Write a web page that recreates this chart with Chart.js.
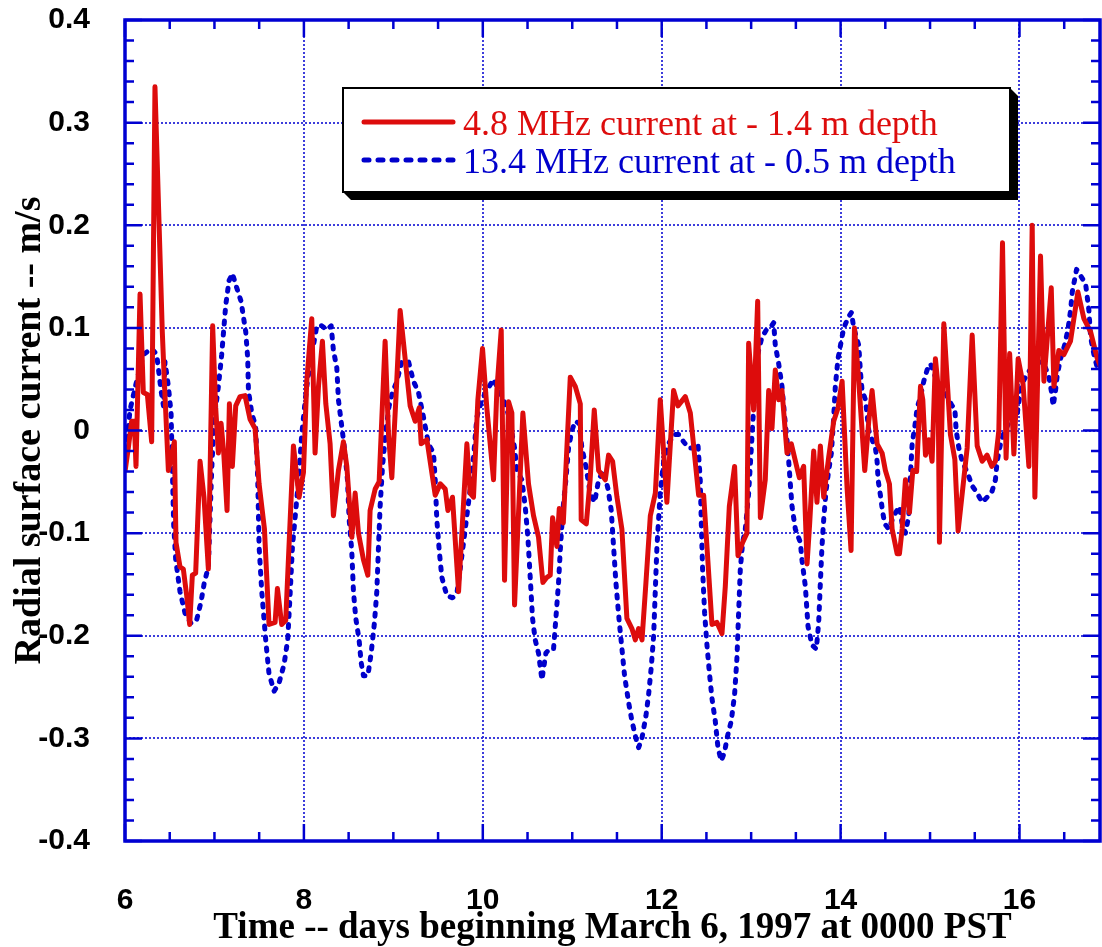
<!DOCTYPE html>
<html>
<head>
<meta charset="utf-8">
<script src="https://cdn.jsdelivr.net/npm/chart.js@4.4.1/dist/chart.umd.min.js"></script>
<style>
  html, body { margin: 0; padding: 0; background: #fff; }
  #holder { width: 1102px; height: 947px; position: relative; }
</style>
</head>
<body>
<div id="holder"><canvas id="ChartHolder"></canvas></div>
<script>
// 4.8 MHz radar (day, m/s)
var redDays = [6.00, 6.037, 6.074, 6.104, 6.123, 6.168, 6.205, 6.25, 6.298, 6.335, 6.417, 6.44, 6.485, 6.552, 6.57, 6.615, 6.652, 6.69, 6.723, 6.753, 6.79, 6.839, 6.883, 6.932, 6.98, 7.014, 7.044, 7.074, 7.104, 7.141, 7.167, 7.20, 7.238, 7.286, 7.342, 7.398, 7.454, 7.499, 7.559, 7.61, 7.678, 7.704, 7.752, 7.797, 7.883, 7.946, 7.995, 8.032, 8.088, 8.125, 8.163, 8.207, 8.245, 8.293, 8.33, 8.386, 8.442, 8.48, 8.536, 8.573, 8.61, 8.666, 8.715, 8.74, 8.797, 8.841, 8.908, 8.946, 8.983, 9.028, 9.076, 9.132, 9.188, 9.244, 9.289, 9.311, 9.375, 9.468, 9.524, 9.58, 9.61, 9.661, 9.729, 9.766, 9.822, 9.859, 9.896, 9.945, 9.997, 10.045, 10.12, 10.157, 10.206, 10.243, 10.288, 10.325, 10.355, 10.448, 10.511, 10.567, 10.623, 10.672, 10.717, 10.754, 10.78, 10.828, 10.855, 10.9, 10.978, 11.034, 11.09, 11.1, 11.157, 11.2, 11.246, 11.295, 11.37, 11.406, 11.451, 11.5, 11.555, 11.611, 11.667, 11.705, 11.742, 11.78, 11.824, 11.873, 11.929, 11.984, 12.058, 12.085, 12.133, 12.182, 12.264, 12.32, 12.413, 12.469, 12.562, 12.618, 12.674, 12.711, 12.756, 12.815, 12.853, 12.905, 12.953, 12.972, 13.028, 13.073, 13.103, 13.158, 13.196, 13.233, 13.27, 13.308, 13.345, 13.401, 13.449, 13.539, 13.587, 13.625, 13.654, 13.699, 13.736, 13.774, 13.811, 13.867, 13.923, 13.971, 14.017, 14.073, 14.117, 14.155, 14.196, 14.27, 14.315, 14.352, 14.408, 14.464, 14.501, 14.546, 14.576, 14.632, 14.658, 14.688, 14.725, 14.77, 14.807, 14.85, 14.893, 14.919, 14.949, 14.986, 15.023, 15.06, 15.09, 15.105, 15.154, 15.228, 15.277, 15.314, 15.415, 15.471, 15.527, 15.583, 15.638, 15.69, 15.731, 15.769, 15.81, 15.85, 15.89, 15.937, 15.985, 16.04, 16.105, 16.142, 16.172, 16.235, 16.273, 16.355, 16.385, 16.44, 16.496, 16.57, 16.653, 16.72, 16.795, 16.87, 16.93];
var redVals = [-0.04, -0.017, 0.009, 0.009, -0.035, 0.133, 0.037, 0.035, -0.011, 0.335, 0.096, 0.048, -0.039, -0.011, -0.109, -0.133, -0.135, -0.161, -0.189, -0.141, -0.139, -0.03, -0.065, -0.135, 0.102, 0.022, -0.022, 0.007, -0.022, -0.078, 0.026, -0.035, 0.024, 0.033, 0.034, 0.011, 0.002, -0.052, -0.096, -0.189, -0.187, -0.154, -0.189, -0.185, -0.015, -0.065, -0.041, 0.048, 0.109, -0.022, 0.043, 0.087, 0.026, -0.013, -0.083, -0.039, -0.011, -0.035, -0.104, -0.061, -0.1, -0.126, -0.141, -0.078, -0.057, -0.05, 0.087, -0.004, -0.046, 0.03, 0.117, 0.07, 0.024, 0.009, 0.022, -0.013, -0.009, -0.063, -0.052, -0.057, -0.078, -0.065, -0.157, -0.1, -0.013, -0.061, -0.065, 0.03, 0.08, 0.022, -0.048, 0.039, 0.098, -0.146, 0.028, 0.017, -0.17, 0.017, -0.052, -0.083, -0.104, -0.148, -0.143, -0.141, -0.085, -0.113, -0.076, -0.09, 0.052, 0.043, 0.026, -0.087, -0.091, -0.048, 0.02, -0.039, -0.048, -0.024, -0.03, -0.065, -0.096, -0.183, -0.193, -0.204, -0.193, -0.204, -0.148, -0.083, -0.061, 0.03, -0.07, -0.03, 0.039, 0.024, 0.033, 0.017, -0.063, -0.063, -0.189, -0.187, -0.198, -0.152, -0.074, -0.035, -0.122, -0.109, -0.1, 0.085, 0.02, 0.126, -0.085, -0.048, 0.039, 0.002, 0.059, 0.03, 0.039, -0.022, -0.013, -0.046, -0.035, -0.13, -0.091, -0.02, -0.07, -0.015, -0.065, -0.026, 0.009, 0.022, 0.048, -0.057, -0.117, 0.1, 0.057, -0.039, 0.009, 0.039, -0.013, -0.022, -0.039, -0.052, -0.096, -0.12, -0.12, -0.096, -0.048, -0.08, -0.039, -0.04, 0.043, 0.03, -0.024, -0.009, -0.03, 0.07, 0.043, -0.109, 0.104, -0.004, -0.028, -0.098, -0.017, 0.093, -0.015, -0.03, -0.024, -0.035, -0.03, 0.0, 0.183, -0.027, 0.075, -0.023, 0.07, 0.045, -0.035, 0.2, -0.065, 0.17, 0.048, 0.139, 0.043, 0.078, 0.074, 0.087, 0.135, 0.109, 0.096, 0.07, 0.057];

// 13.4 MHz radar
var blueDays = [6.0, 6.056, 6.13, 6.205, 6.298, 6.354, 6.403, 6.43, 6.447, 6.485, 6.515, 6.53, 6.544, 6.567, 6.615, 6.671, 6.738, 6.8, 6.85, 6.887, 6.932, 6.95, 6.969, 6.995, 7.044, 7.081, 7.126, 7.163, 7.2, 7.249, 7.297, 7.35, 7.372, 7.38, 7.417, 7.461, 7.484, 7.499, 7.529, 7.573, 7.61, 7.667, 7.722, 7.778, 7.819, 7.845, 7.872, 7.913, 7.94, 7.976, 8.006, 8.032, 8.07, 8.107, 8.144, 8.2, 8.256, 8.305, 8.33, 8.368, 8.386, 8.416, 8.453, 8.487, 8.506, 8.535, 8.554, 8.58, 8.617, 8.64, 8.666, 8.715, 8.752, 8.789, 8.815, 8.834, 8.852, 8.879, 8.916, 8.953, 8.99, 9.039, 9.095, 9.17, 9.225, 9.281, 9.337, 9.393, 9.449, 9.468, 9.486, 9.513, 9.542, 9.598, 9.661, 9.71, 9.747, 9.785, 9.822, 9.859, 9.896, 9.934, 9.99, 10.045, 10.12, 10.176, 10.232, 10.288, 10.325, 10.355, 10.381, 10.437, 10.474, 10.504, 10.53, 10.556, 10.586, 10.623, 10.661, 10.705, 10.743, 10.791, 10.817, 10.847, 10.866, 10.885, 10.903, 10.929, 10.959, 10.996, 11.034, 11.078, 11.108, 11.153, 11.2, 11.25, 11.295, 11.35, 11.4, 11.436, 11.462, 11.488, 11.526, 11.556, 11.585, 11.63, 11.667, 11.712, 11.742, 11.779, 11.824, 11.854, 11.884, 11.91, 11.928, 11.947, 11.984, 12.022, 12.077, 12.133, 12.189, 12.245, 12.301, 12.357, 12.405, 12.431, 12.443, 12.457, 12.48, 12.506, 12.532, 12.562, 12.599, 12.629, 12.666, 12.704, 12.73, 12.778, 12.815, 12.841, 12.86, 12.879, 12.905, 12.935, 12.972, 13.002, 13.028, 13.047, 13.084, 13.121, 13.17, 13.214, 13.252, 13.27, 13.308, 13.345, 13.375, 13.401, 13.42, 13.438, 13.457, 13.494, 13.55, 13.568, 13.606, 13.636, 13.68, 13.729, 13.755, 13.774, 13.792, 13.811, 13.837, 13.867, 13.897, 13.923, 13.941, 13.971, 14.016, 14.035, 14.091, 14.121, 14.147, 14.203, 14.222, 14.24, 14.278, 14.315, 14.352, 14.389, 14.408, 14.419, 14.445, 14.471, 14.494, 14.539, 14.594, 14.658, 14.688, 14.725, 14.762, 14.77, 14.781, 14.8, 14.83, 14.856, 14.893, 14.93, 14.967, 15.005, 15.06, 15.117, 15.154, 15.191, 15.247, 15.277, 15.292, 15.322, 15.359, 15.396, 15.426, 15.471, 15.527, 15.583, 15.638, 15.694, 15.731, 15.75, 15.788, 15.825, 15.862, 15.9, 15.937, 15.974, 16.011, 16.03, 16.067, 16.116, 16.161, 16.198, 16.235, 16.291, 16.329, 16.355, 16.377, 16.403, 16.422, 16.459, 16.504, 16.541, 16.571, 16.59, 16.638, 16.675, 16.739, 16.776, 16.795, 16.832, 16.87, 16.9];
var blueVals = [-0.03, 0.02, 0.048, 0.074, 0.08, 0.074, 0.039, 0.024, 0.067, 0.043, 0.017, -0.039, -0.091, -0.126, -0.157, -0.178, -0.188, -0.185, -0.167, -0.148, -0.133, -0.087, -0.039, 0.009, 0.043, 0.074, 0.122, 0.146, 0.153, 0.139, 0.126, 0.096, 0.07, 0.039, 0.017, 0.004, -0.048, -0.113, -0.157, -0.204, -0.237, -0.254, -0.246, -0.228, -0.204, -0.161, -0.113, -0.074, -0.048, -0.004, 0.022, 0.043, 0.065, 0.083, 0.102, 0.102, 0.098, 0.102, 0.078, 0.061, 0.03, 0.009, -0.017, -0.048, -0.087, -0.117, -0.157, -0.183, -0.204, -0.226, -0.239, -0.239, -0.217, -0.187, -0.157, -0.113, -0.074, -0.035, 0.0, 0.024, 0.037, 0.048, 0.067, 0.067, 0.048, 0.037, 0.013, -0.013, -0.022, -0.048, -0.087, -0.117, -0.143, -0.161, -0.163, -0.159, -0.135, -0.109, -0.083, -0.057, -0.026, 0.013, 0.03, 0.039, 0.05, 0.039, 0.03, 0.015, -0.002, -0.017, -0.039, -0.048, -0.074, -0.104, -0.143, -0.183, -0.204, -0.217, -0.243, -0.217, -0.213, -0.213, -0.183, -0.148, -0.117, -0.091, -0.07, -0.048, -0.017, 0.0, 0.009, 0.007, -0.017, -0.035, -0.061, -0.07, -0.048, -0.039, -0.057, -0.078, -0.113, -0.148, -0.187, -0.213, -0.239, -0.265, -0.283, -0.3, -0.309, -0.3, -0.278, -0.257, -0.23, -0.2, -0.157, -0.113, -0.06, -0.03, -0.013, -0.004, -0.004, -0.011, -0.017, -0.017, -0.013, -0.048, -0.091, -0.135, -0.178, -0.209, -0.235, -0.261, -0.283, -0.309, -0.322, -0.313, -0.3, -0.283, -0.257, -0.222, -0.178, -0.135, -0.109, -0.096, -0.061, -0.017, 0.022, 0.061, 0.078, 0.091, 0.098, 0.1, 0.105, 0.083, 0.065, 0.043, 0.013, -0.009, -0.03, -0.052, -0.074, -0.096, -0.109, -0.126, -0.152, -0.191, -0.209, -0.213, -0.187, -0.148, -0.113, -0.087, -0.059, -0.039, -0.022, 0.013, 0.043, 0.07, 0.091, 0.1, 0.111, 0.115, 0.1, 0.083, 0.057, 0.039, 0.03, 0.0, -0.009, -0.017, -0.03, -0.048, -0.063, -0.08, -0.091, -0.096, -0.083, -0.074, -0.091, -0.1, -0.083, -0.065, -0.043, -0.013, 0.004, 0.022, 0.033, 0.048, 0.059, 0.065, 0.052, 0.048, 0.043, 0.033, 0.024, 0.022, 0.0, -0.017, -0.03, -0.037, -0.043, -0.054, -0.061, -0.07, -0.065, -0.059, -0.048, -0.03, -0.013, -0.002, 0.004, 0.011, 0.009, 0.016, 0.039, 0.046, 0.052, 0.059, 0.061, 0.065, 0.067, 0.061, 0.052, 0.039, 0.024, 0.039, 0.054, 0.07, 0.083, 0.098, 0.117, 0.135, 0.157, 0.152, 0.143, 0.117, 0.091, 0.074, 0.061, 0.057];

var seriesLabels = ['4.8 MHz current at - 1.4 m depth', '13.4 MHz current at - 0.5 m depth'];
var xTitle = 'Time -- days beginning March 6, 1997 at 0000 PST';
var yTitle = 'Radial surface current -- m/s';

var redColor = 'rgb(221, 12, 12)';
var blueColor = 'rgb(0, 0, 204)';
var axisBlue = 'rgb(0, 0, 210)';

function toPoints(days, vals) {
    var pts = [];
    for (var i = 0; i < days.length; i++) {
        pts.push({ x: days[i], y: vals[i] });
    }
    return pts;
}

// blue box round the plot, ticks pointing inward on all four sides
var frameTicks = {
    id: 'frameTicks',
    afterDatasetsDraw: function (chart) {
        var ctx = chart.ctx;
        var a = chart.chartArea;
        var xs = chart.scales.x;
        var ys = chart.scales.y;
        ctx.save();
        ctx.strokeStyle = axisBlue;
        ctx.lineWidth = 2.5;
        ctx.beginPath();
        for (var i = 0; i <= 21; i++) {
            var px = xs.getPixelForValue(6 + i * 0.5);
            var len = (i % 4 === 0) ? 17 : 9;
            ctx.moveTo(px, a.bottom); ctx.lineTo(px, a.bottom - len);
            ctx.moveTo(px, a.top); ctx.lineTo(px, a.top + len);
        }
        for (var j = 0; j <= 40; j++) {
            var py = ys.getPixelForValue(-0.4 + j * 0.02);
            var l2 = (j % 5 === 0) ? 17 : 9;
            ctx.moveTo(a.left, py); ctx.lineTo(a.left + l2, py);
            ctx.moveTo(a.right, py); ctx.lineTo(a.right - l2, py);
        }
        ctx.stroke();
        ctx.lineWidth = 3.5;
        ctx.strokeRect(a.left, a.top, a.right - a.left, a.bottom - a.top);
        ctx.restore();
    }
};

// framed legend with a drop shadow
var legendBox = {
    id: 'legendBox',
    afterDraw: function (chart) {
        var ctx = chart.ctx;
        var x0 = 343, y0 = 88, w = 667, h = 104, s = 8;
        ctx.save();
        ctx.fillStyle = '#000';
        ctx.beginPath();
        ctx.moveTo(x0 + w, y0);
        ctx.lineTo(x0 + w + s, y0 + s);
        ctx.lineTo(x0 + w + s, y0 + h + s);
        ctx.lineTo(x0 + s, y0 + h + s);
        ctx.lineTo(x0, y0 + h);
        ctx.closePath();
        ctx.fill();
        ctx.fillStyle = '#fff';
        ctx.fillRect(x0, y0, w, h);
        ctx.lineWidth = 2;
        ctx.strokeStyle = '#000';
        ctx.strokeRect(x0, y0, w, h);

        var rows = [{ line: 122, text: 135, dash: [] }, { line: 160, text: 173, dash: [5, 9] }];
        chart.data.datasets.forEach(function (ds, i) {
            ctx.strokeStyle = ds.borderColor;
            ctx.lineWidth = ds.borderWidth;
            ctx.lineCap = 'round';
            ctx.setLineDash(rows[i].dash);
            ctx.beginPath();
            ctx.moveTo(364, rows[i].line);
            ctx.lineTo(453, rows[i].line);
            ctx.stroke();
            ctx.setLineDash([]);
            ctx.fillStyle = ds.borderColor;
            ctx.font = '36px "Liberation Serif", "Times New Roman", serif';
            ctx.textBaseline = 'alphabetic';
            ctx.fillText(ds.label, 463, rows[i].text);
        });
        ctx.restore();
    }
};

var tickFont = { family: '"Liberation Sans", Arial, sans-serif', size: 30, weight: 'bold' };
var titleFont = { family: '"Liberation Serif", "Times New Roman", serif', size: 37, weight: 'bold', lineHeight: 1 };
var gridBlue = 'rgba(40, 40, 215, 0.9)';

// keep the plot box where the reference has it, whatever the labels ask for
function fixPadding(scale) {
    scale.paddingTop = 0;
    scale.paddingBottom = 0;
    scale.paddingLeft = 0;
    scale.paddingRight = 0;
}

var ctx = document.getElementById('ChartHolder');

var chartConfig = {
    type: 'scatter',
    data: {
        datasets: [{
            label: seriesLabels[0],
            data: toPoints(redDays, redVals),
            showLine: true,
            borderColor: redColor,
            backgroundColor: redColor,
            borderWidth: 5,
            borderJoinStyle: 'round',
            pointRadius: 0,
            tension: 0
        }, {
            label: seriesLabels[1],
            data: toPoints(blueDays, blueVals),
            showLine: true,
            borderColor: blueColor,
            backgroundColor: blueColor,
            borderWidth: 5,
            borderDash: [3, 8],
            borderCapStyle: 'round',
            borderJoinStyle: 'round',
            pointRadius: 0,
            tension: 0
        }]
    },
    options: {
        responsive: true,
        maintainAspectRatio: false,
        animation: false,
        layout: { padding: { top: 20, right: 2, left: 0, bottom: 0 } },
        plugins: {
            legend: { display: false },
            tooltip: { enabled: false }
        },
        scales: {
            x: {
                type: 'linear',
                position: 'bottom',
                min: 6,
                max: 16.9,
                afterFit: function (scale) { scale.height = 106; fixPadding(scale); },
                ticks: {
                    stepSize: 2,
                    includeBounds: false,
                    autoSkip: false,
                    maxRotation: 0,
                    padding: 42,
                    color: '#000',
                    font: tickFont
                },
                grid: { color: gridBlue, lineWidth: 2, drawTicks: false },
                border: { display: false, dash: [2, 2] },
                title: {
                    display: true,
                    text: xTitle,
                    color: '#000',
                    font: titleFont,
                    padding: { top: 0, bottom: 0 }
                }
            },
            y: {
                type: 'linear',
                min: -0.4,
                max: 0.4,
                afterFit: function (scale) { scale.width = 125; fixPadding(scale); },
                ticks: {
                    stepSize: 0.1,
                    autoSkip: false,
                    padding: 35,
                    color: '#000',
                    font: tickFont,
                    callback: function (v) {
                        return Math.abs(v) < 1e-9 ? '0' : Number(v).toFixed(1);
                    }
                },
                grid: { color: gridBlue, lineWidth: 2, drawTicks: false },
                border: { display: false, dash: [2, 2] },
                title: {
                    display: true,
                    text: yTitle,
                    color: '#000',
                    font: { family: titleFont.family, size: 38, weight: 'bold', lineHeight: 1 },
                    padding: { top: 11, bottom: 0 }
                }
            }
        }
    },
    plugins: [frameTicks, legendBox]
};

var currentChart = new Chart(ctx, chartConfig);
</script>
</body>
</html>
